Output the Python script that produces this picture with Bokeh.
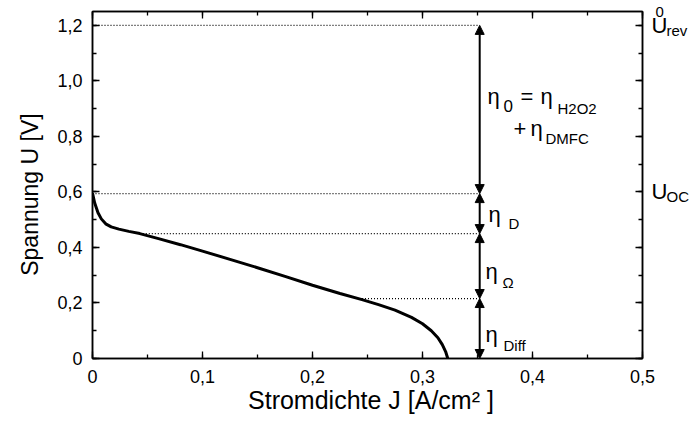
from bokeh.plotting import figure
from bokeh.models import (Range1d, LinearAxis, SingleIntervalTicker, FixedTicker,
                          CustomJSTickFormatter, Arrow, NormalHead, Label, ColumnDataSource)
from bokeh.embed import file_html
from bokeh.resources import INLINE

# ---- data ----
J_CURVE = [0, 0.002, 0.005, 0.008, 0.012, 0.017, 0.024, 0.033, 0.043, 0.06, 0.08, 0.1,
           0.125, 0.15, 0.175, 0.2, 0.225, 0.245, 0.26, 0.275, 0.29, 0.3, 0.308, 0.314,
           0.318, 0.321, 0.323]
U_CURVE = [0.596, 0.56, 0.525, 0.503, 0.485, 0.474, 0.466, 0.458, 0.45, 0.432, 0.41, 0.387,
           0.357, 0.327, 0.296, 0.264, 0.234, 0.212, 0.194, 0.174, 0.148, 0.125, 0.1, 0.075,
           0.05, 0.025, 0.0]
LEVELS = [1.2, 0.594, 0.45, 0.216, 0.0]          # voltage levels (V)
DOT_START = [0.0, 0.0, 0.043, 0.245]             # where the dotted level lines begin (J)
ARROW_X = 0.352                                  # current density of the arrows
U_MARKS = [1.2, 0.6]                             # U_rev^0 and U_OC on the right-hand scale
X_RANGE = (0, 0.5)
Y_RANGE = (0, 1.25)

FONT = "Liberation Sans"

# frame geometry (px)
L, R, T, B = 92, 55, 11, 65
W, H = 697, 423
FW, FH = W - L - R, H - T - B
SX = FW / (X_RANGE[1] - X_RANGE[0])
SY = FH / (Y_RANGE[1] - Y_RANGE[0])

p = figure(width=W, height=H, output_backend="svg", toolbar_location=None,
           x_range=Range1d(*X_RANGE), y_range=Range1d(*Y_RANGE),
           min_border_left=L, min_border_right=R, min_border_top=T, min_border_bottom=B)
p.grid.visible = False
p.outline_line_color = "black"
p.outline_line_width = 1.5
p.background_fill_color = "white"
p.border_fill_color = "white"

fmt = CustomJSTickFormatter(code="return tick == 0 ? '0' : tick.toFixed(1).replace('.', ',');")

def style(ax, labels=True):
    ax.major_tick_in = 7
    ax.major_tick_out = 0
    ax.minor_tick_in = 4
    ax.minor_tick_out = 0
    ax.axis_line_width = 1.5
    ax.major_tick_line_width = 1.3
    ax.minor_tick_line_width = 1.3
    ax.major_label_text_font = FONT
    ax.axis_label_text_font = FONT
    ax.axis_label_text_font_style = "normal"
    ax.major_label_text_color = "black"
    ax.axis_label_text_color = "black"
    if not labels:
        ax.major_label_text_font_size = "0px"
        ax.major_label_standoff = 0

xb = p.xaxis[0]
xb.ticker = SingleIntervalTicker(interval=0.1, num_minor_ticks=2)
xb.formatter = fmt
style(xb)
xb.major_label_text_font_size = "18px"
xb.major_label_standoff = 11
xb.axis_label = "\u00a0Stromdichte J [A/cm² ]"
xb.axis_label_text_font_size = "25px"
xb.axis_label_standoff = 0

yl = p.yaxis[0]
yl.ticker = SingleIntervalTicker(interval=0.2, num_minor_ticks=2)
yl.formatter = fmt
style(yl)
yl.major_label_text_font_size = "18px"
yl.major_label_standoff = 10
yl.axis_label = "Spannung U [V]\u00a0\u00a0\u00a0"
yl.axis_label_text_font_size = "23px"
yl.axis_label_standoff = 11

xt = LinearAxis(ticker=SingleIntervalTicker(interval=0.1, num_minor_ticks=2))
style(xt, labels=False)
p.add_layout(xt, "above")
yr = LinearAxis(ticker=SingleIntervalTicker(interval=0.2, num_minor_ticks=2))
style(yr, labels=False)
p.add_layout(yr, "right")

# right-hand label axes: U_rev^0 and U_OC built from plain tick labels
def label_axis(ticks, code, size, standoff):
    ax = LinearAxis(ticker=FixedTicker(ticks=ticks, minor_ticks=[]),
                    formatter=CustomJSTickFormatter(code=code))
    ax.axis_line_color = None
    ax.major_tick_line_color = None
    ax.minor_tick_line_color = None
    ax.major_tick_in = 0
    ax.major_tick_out = 0
    ax.major_label_standoff = standoff
    ax.major_label_text_font = FONT
    ax.major_label_text_font_size = f"{size}px"
    ax.major_label_text_color = "black"
    p.add_layout(ax, "right")
    return ax

sup_y = U_MARKS[0] + 0.049                       # superscript 0 above U_rev
sub_dy = 0.018                                   # subscripts sit below the U
label_axis([sup_y], "return '0';", 15, 13)
label_axis(U_MARKS, "return 'U';", 22, -15)
label_axis([U_MARKS[0] - sub_dy, U_MARKS[1] - sub_dy],
           "return tick > 1 ? 'rev' : 'OC';", 15, -4)

# dotted level lines
p.segment(x0=DOT_START, y0=LEVELS[:4], x1=[ARROW_X] * 4, y1=LEVELS[:4],
          line_color="black", line_width=1.3, line_dash="1 2")

# polarisation curve
p.line(J_CURVE, U_CURVE, line_color="black", line_width=3)

# double arrows between the levels
asrc = ColumnDataSource(dict(xs=[ARROW_X] * 4, ys=LEVELS[:4], xe=[ARROW_X] * 4, ye=LEVELS[1:]))
p.add_layout(Arrow(source=asrc, x_start="xs", y_start="ys", x_end="xe", y_end="ye",
                   line_width=2, line_color="black",
                   start=NormalHead(size=9, fill_color="black", line_color="black", line_width=1),
                   end=NormalHead(size=9, fill_color="black", line_color="black", line_width=1)))

# position text by reference pixel (page coords) -> data coords
def px(xp, yp):
    return X_RANGE[0] + (xp - L) / SX, Y_RANGE[0] + (H - B - yp) / SY

def put(text, xp, yp, size):
    x, y = px(xp, yp)
    p.add_layout(Label(x=x, y=y, text=text, text_font=FONT, text_font_size=f"{size}px",
                       text_color="black", text_align="left", text_baseline="alphabetic"))

BIG, SUB = 22, 15
# eta_0 = eta_H2O2 + eta_DMFC
put("η", 487, 96, BIG)
put("0", 503, 105, 17)
put("=", 520, 96, BIG)
put("η", 540, 96, BIG)
put("H2O2", 557, 108, SUB)
put("+", 513, 128, BIG)
put("η", 530, 128, BIG)
put("DMFC", 545, 138, SUB)
# eta_D, eta_Omega, eta_Diff
put("η", 488, 214, BIG)
put("D", 508, 223, SUB)
put("η", 485, 271, BIG)
put("Ω", 502, 282, SUB)
put("η", 485, 334, BIG)
put("Diff", 503, 345, SUB)

open("out.html", "w").write(file_html(p, INLINE))
